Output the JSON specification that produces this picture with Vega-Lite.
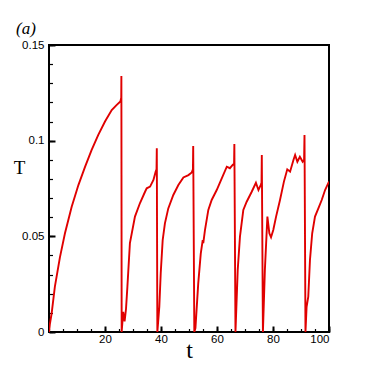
{
  "$schema": "https://vega.github.io/schema/vega-lite/v6.json",
  "autosize": "none",
  "width": 280,
  "height": 287,
  "padding": {"left": 49, "top": 45, "right": 45, "bottom": 42},
  "background": "white",
  "title": {"text": "(a)", "anchor": "start", "frame": "group", "dx": -33, "dy": 26, "offset": 14, "baseline": "alphabetic", "font": "Liberation Serif", "fontStyle": "italic", "fontWeight": "normal", "fontSize": 17, "color": "black"},
  "config": {
    "view": {"stroke": "black", "strokeWidth": 2},
    "axis": {"domain": false, "grid": false, "tickColor": "black", "labelColor": "black", "titleColor": "black", "labelFont": "Liberation Sans", "labelFontSize": 11.5}
  },
  "data": {"values": [
    {"t": 0, "T": 0}, {"t": 0.3, "T": 0.004}, {"t": 0.95, "T": 0.0098}, {"t": 2.1, "T": 0.0237}, {"t": 3.9, "T": 0.039}, {"t": 5.7, "T": 0.0516}, {"t": 8.1, "T": 0.0655}, {"t": 10.5, "T": 0.0768}, {"t": 12.9, "T": 0.0864}, {"t": 15.2, "T": 0.0951}, {"t": 17.6, "T": 0.103}, {"t": 20, "T": 0.11}, {"t": 22.4, "T": 0.116}, {"t": 24.2, "T": 0.1187}, {"t": 25.5, "T": 0.1205}, {"t": 25.8, "T": 0.1225}, {"t": 25.85, "T": 0.1338}, {"t": 25.95, "T": 0.0},
    {"t": 26.5, "T": 0.0105}, {"t": 27.0, "T": 0.0055}, {"t": 27.5, "T": 0.012}, {"t": 28.0, "T": 0.0237}, {"t": 28.9, "T": 0.0465}, {"t": 30.7, "T": 0.0603}, {"t": 32.5, "T": 0.0674}, {"t": 34.3, "T": 0.0733}, {"t": 34.9, "T": 0.0751}, {"t": 36.1, "T": 0.076}, {"t": 37.3, "T": 0.0795}, {"t": 38.1, "T": 0.0838}, {"t": 38.4, "T": 0.085}, {"t": 38.5, "T": 0.096}, {"t": 38.7, "T": 0.0},
    {"t": 39.4, "T": 0.0132}, {"t": 39.9, "T": 0.0307}, {"t": 40.6, "T": 0.048}, {"t": 41.4, "T": 0.0568}, {"t": 42.6, "T": 0.0646}, {"t": 44.4, "T": 0.0716}, {"t": 46.2, "T": 0.0768}, {"t": 48, "T": 0.0808}, {"t": 49.8, "T": 0.082}, {"t": 51, "T": 0.0834}, {"t": 51.4, "T": 0.085}, {"t": 51.5, "T": 0.0972}, {"t": 51.9, "T": 0.0},
    {"t": 52.3, "T": 0.002}, {"t": 53.3, "T": 0.0254}, {"t": 54.2, "T": 0.041}, {"t": 54.9, "T": 0.048}, {"t": 55.1, "T": 0.0464}, {"t": 55.7, "T": 0.0533}, {"t": 56.9, "T": 0.0638}, {"t": 58.1, "T": 0.069}, {"t": 59.9, "T": 0.0742}, {"t": 61.7, "T": 0.0803}, {"t": 63.5, "T": 0.0864}, {"t": 64.6, "T": 0.0856}, {"t": 65.6, "T": 0.0873}, {"t": 66.1, "T": 0.088}, {"t": 66.2, "T": 0.0983}, {"t": 66.6, "T": 0.0},
    {"t": 67.4, "T": 0.0324}, {"t": 68.2, "T": 0.0498}, {"t": 69.4, "T": 0.0638}, {"t": 70.6, "T": 0.0681}, {"t": 72.4, "T": 0.0733}, {"t": 73.9, "T": 0.078}, {"t": 74.8, "T": 0.0742}, {"t": 75.6, "T": 0.0768}, {"t": 75.9, "T": 0.078}, {"t": 76.0, "T": 0.0925}, {"t": 76.4, "T": 0.0},
    {"t": 77.1, "T": 0.0324}, {"t": 78.0, "T": 0.0603}, {"t": 78.7, "T": 0.0516}, {"t": 79.3, "T": 0.0495}, {"t": 80.1, "T": 0.0533}, {"t": 81.1, "T": 0.0603}, {"t": 82.5, "T": 0.069}, {"t": 83.9, "T": 0.0786}, {"t": 85.1, "T": 0.085}, {"t": 86.1, "T": 0.0838}, {"t": 87.3, "T": 0.0899}, {"t": 87.9, "T": 0.0925}, {"t": 88.7, "T": 0.089}, {"t": 89.6, "T": 0.0916}, {"t": 90.6, "T": 0.089}, {"t": 91.1, "T": 0.0899}, {"t": 91.25, "T": 0.103}, {"t": 91.6, "T": 0.0},
    {"t": 92.0, "T": 0.0132}, {"t": 92.6, "T": 0.0185}, {"t": 93.2, "T": 0.0376}, {"t": 94, "T": 0.0516}, {"t": 95, "T": 0.0603}, {"t": 96.2, "T": 0.0646}, {"t": 97.4, "T": 0.069}, {"t": 98.6, "T": 0.0742}, {"t": 100, "T": 0.0786}
  ]},
  "layer": [
    {
      "mark": {"type": "line", "strokeOpacity": 0, "clip": true},
      "encoding": {
        "x": {"field": "t", "type": "quantitative", "scale": {"domain": [0, 100], "nice": false, "zero": false},
          "axis": {"orient": "bottom", "values": [0,5,10,15,20,25,30,35,40,45,50,55,60,65,70,75,80,85,90,95,100], "labels": false, "tickSize": -3.5, "tickWidth": 1.2, "title": null}},
        "y": {"field": "T", "type": "quantitative", "scale": {"domain": [0, 0.15], "nice": false, "zero": false},
          "axis": {"orient": "left", "values": [0,0.01,0.02,0.03,0.04,0.05,0.06,0.07,0.08,0.09,0.1,0.11,0.12,0.13,0.14,0.15], "labels": false, "tickSize": -3.5, "tickWidth": 1.2, "title": null}}
      }
    },
    {
      "mark": {"type": "line", "color": "#e00000", "strokeWidth": 1.9, "clip": true},
      "encoding": {
        "x": {"field": "t", "type": "quantitative", "scale": {"domain": [0, 100], "nice": false, "zero": false},
          "axis": {"orient": "bottom", "values": [20, 40, 60, 80, 100], "tickSize": -6, "tickWidth": 2, "labelPadding": 7, "labelBaseline": "top", "title": "t", "titleFont": "Liberation Serif", "titleFontSize": 24, "titleFontWeight": "normal", "titleY": 25, "titleBaseline": "alphabetic"}},
        "y": {"field": "T", "type": "quantitative", "scale": {"domain": [0, 0.15], "nice": false, "zero": false},
          "axis": {"orient": "left", "values": [0, 0.05, 0.1, 0.15], "labelExpr": "'' + datum.value", "tickSize": -6, "tickWidth": 2, "labelPadding": 11, "title": "T", "titleAngle": 0, "titleFont": "Liberation Serif", "titleFontSize": 19, "titleFontWeight": "normal", "titleX": -30, "titleY": 122, "titleAlign": "center", "titleBaseline": "middle"}}
      }
    }
  ],
  "resolve": {"axis": {"x": "independent", "y": "independent"}}
}
